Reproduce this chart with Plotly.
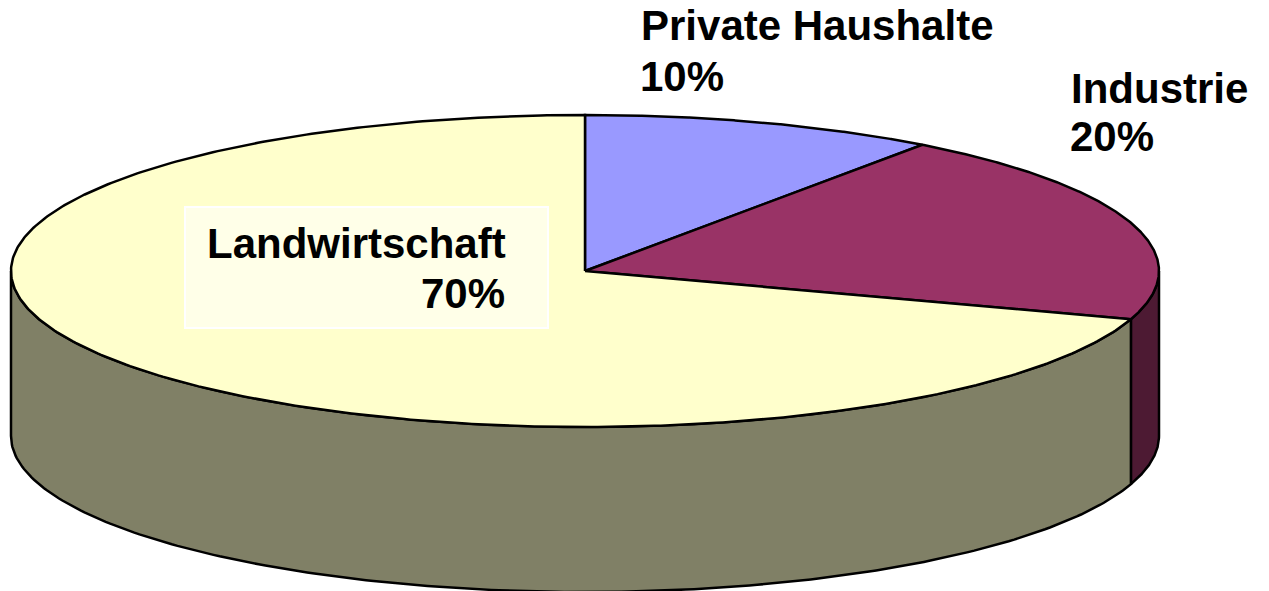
import numpy as np
import plotly.graph_objects as go

# ---- data ----
categories = ["Private Haushalte", "Industrie", "Landwirtschaft"]
shares = [10, 20, 70]
pct_labels = ["10%", "20%", "70%"]
top_colors = ["#9999FF", "#993366", "#FFFFCC"]
side_colors = ["#4D4D80", "#4D1A33", "#808066"]

# ---- 3D pie geometry (pixel space) ----
W, H = 1269, 591
CX, CY = 585, 271
RX, RY = 574, 156
DEPTH = 165


def pt(theta_deg, dz=0.0):
    t = np.radians(theta_deg)
    return CX + RX * np.sin(t), CY - RY * np.cos(t) + dz


fig = go.Figure()

total = float(sum(shares))
bounds = []
acc = 0.0
for s in shares:
    a1 = acc / total * 360.0
    acc += s
    a2 = acc / total * 360.0
    bounds.append((a1, a2))

LINE = dict(color="black", width=2.5)

# side faces (visible front: 90..270 deg)
for (a1, a2), col in zip(bounds, side_colors):
    lo, hi = max(a1, 90.0), min(a2, 270.0)
    if hi <= lo:
        continue
    th = np.linspace(lo, hi, 200)
    xt, yt = pt(th)
    xb, yb = pt(th[::-1], DEPTH)
    xs = np.concatenate([xt, xb, xt[:1]])
    ys = np.concatenate([yt, yb, yt[:1]])
    fig.add_trace(go.Scatter(x=xs, y=ys, mode="lines", fill="toself",
                             fillcolor=col, line=LINE, hoverinfo="skip",
                             showlegend=False))

# top faces
for (a1, a2), col in zip(bounds, top_colors):
    th = np.linspace(a1, a2, 400)
    xa, ya = pt(th)
    xs = np.concatenate([[CX], xa, [CX]])
    ys = np.concatenate([[CY], ya, [CY]])
    fig.add_trace(go.Scatter(x=xs, y=ys, mode="lines", fill="toself",
                             fillcolor=col, line=LINE, hoverinfo="skip",
                             showlegend=False))

# ---- labels ----
FONT = dict(family="Arial, Liberation Sans, sans-serif", size=42, color="black")

# label background box for Landwirtschaft
fig.add_shape(type="rect", x0=185, x1=548, y0=207, y1=328,
              xref="x", yref="y", fillcolor="#FFFFE8",
              line=dict(color="white", width=2), layer="above")

label_specs = [
    (categories[0], 641, 25.5, "left"),
    (pct_labels[0], 640, 76.5, "left"),
    (categories[1], 1071, 88, "left"),
    (pct_labels[1], 1070, 136, "left"),
    (categories[2], 207, 243, "left"),
    (pct_labels[2], 505, 293.5, "right"),
]
for txt, x, y, anc in label_specs:
    fig.add_annotation(x=x, y=y, xref="x", yref="y", text="<b>%s</b>" % txt,
                       showarrow=False, xanchor=anc, yanchor="middle",
                       font=FONT, borderpad=0, borderwidth=0)

fig.update_xaxes(range=[0, W], visible=False, fixedrange=True)
fig.update_yaxes(range=[H, 0], visible=False, fixedrange=True)
fig.update_layout(width=W, height=H, margin=dict(l=0, r=0, t=0, b=0),
                  paper_bgcolor="white", plot_bgcolor="white",
                  showlegend=False)

fig.write_html("out.html", config={"displayModeBar": False},
               post_script="document.body.style.margin='0';"
                           "document.body.style.overflow='hidden';")
